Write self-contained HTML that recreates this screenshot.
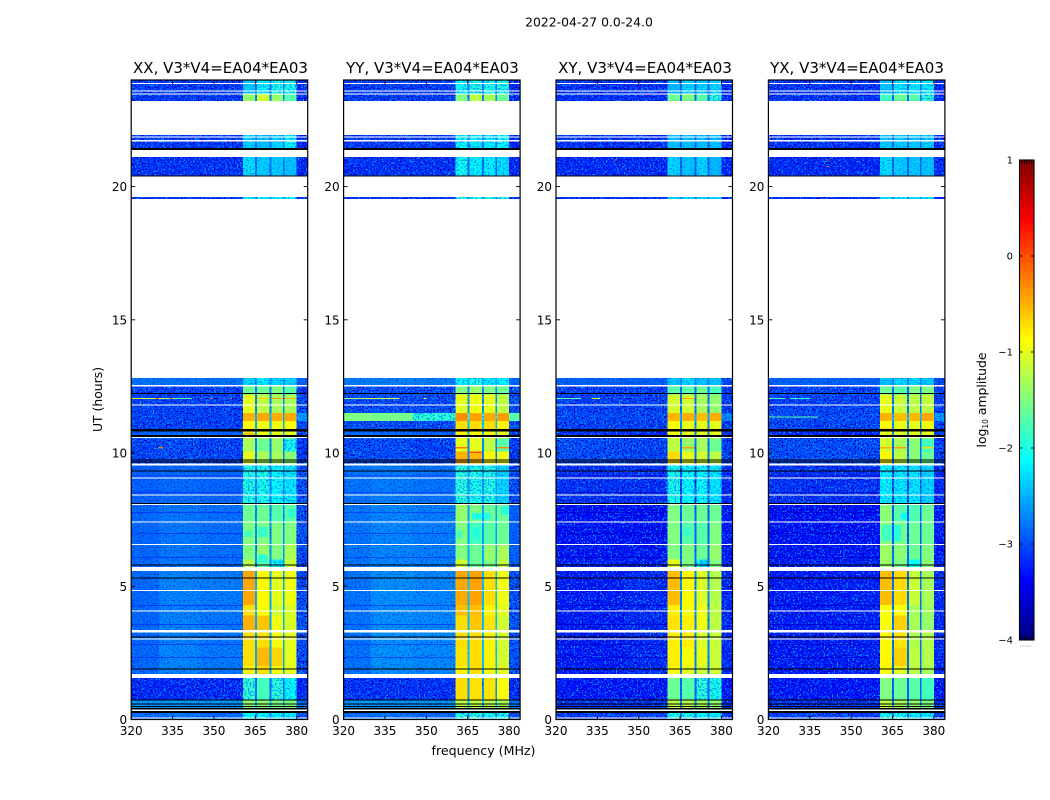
<!DOCTYPE html>
<html lang="en">
<head>
<meta charset="utf-8">
<title>2022-04-27 amplitude waterfall</title>
<style>
html,body{margin:0;padding:0;background:#fff;width:1050px;height:800px;overflow:hidden}
svg{display:block}
text{font-family:"DejaVu Sans","Liberation Sans",sans-serif;fill:#000}
</style>
</head>
<body>
<svg id="figure" xmlns="http://www.w3.org/2000/svg" width="1050" height="800" viewBox="0 0 1050 800">
  <defs>
    <filter id="speck-light" filterUnits="userSpaceOnUse" x="0" y="0" width="1050" height="800" color-interpolation-filters="sRGB">
      <feTurbulence type="fractalNoise" baseFrequency="0.62" numOctaves="1" seed="4"/>
      <feColorMatrix type="matrix" values="0 0 0 0 0  0 0 0 0 0.62  0 0 0 0 1  9 0 0 0 -4.9"/>
    </filter>
    <filter id="speck-dark" filterUnits="userSpaceOnUse" x="0" y="0" width="1050" height="800" color-interpolation-filters="sRGB">
      <feTurbulence type="fractalNoise" baseFrequency="0.62" numOctaves="1" seed="11"/>
      <feColorMatrix type="matrix" values="0 0 0 0 0  0 0 0 0 0  0 0 0 0 0.72  9 0 0 0 -4.9"/>
    </filter>
    <filter id="speck-band" filterUnits="userSpaceOnUse" x="0" y="0" width="1050" height="800" color-interpolation-filters="sRGB">
      <feTurbulence type="fractalNoise" baseFrequency="0.6" numOctaves="1" seed="23"/>
      <feColorMatrix type="matrix" values="0 0 0 0 0  0 0 0 0 0.6  0 0 0 0 1  9 0 0 0 -4.7"/>
    </filter>
  </defs>
  <text x="589" y="26.5" font-size="12.4" text-anchor="middle">2022-04-27 0.0-24.0</text>
  <text x="220.5" y="73" font-size="15" text-anchor="middle">XX, V3*V4=EA04*EA03</text>
  <text x="432.5" y="73" font-size="15" text-anchor="middle">YY, V3*V4=EA04*EA03</text>
  <text x="645" y="73" font-size="15" text-anchor="middle">XY, V3*V4=EA04*EA03</text>
  <text x="857" y="73" font-size="15" text-anchor="middle">YX, V3*V4=EA04*EA03</text>
  <text transform="translate(102 399.5) rotate(-90)" font-size="12.4" text-anchor="middle">UT (hours)</text>
  <text x="483.5" y="755" font-size="12.6" text-anchor="middle">frequency (MHz)</text>
  <text transform="translate(986 400) rotate(-90)" font-size="12.4" text-anchor="middle">log<tspan font-size="7.5" dy="2">10</tspan><tspan dy="-2"> amplitude</tspan></text>
  <g id="panels"></g>
  <g id="colorbar"></g>
</svg>
<script>
// ---------- chart data (log10 amplitude) ----------
const hourEdges = [0,0.43,0.73,1.56,2.0,2.7,3.3,3.9,4.3,5.57,6,6.55,7.4,8.1,9.6,10.05,10.55,10.9,11.2,11.5,12.2,12.5,12.82,19.53,20.38,21.37,23.22,23.47,24];
const freqEdges = [320,330,345,360.5,364.9,365.6,370.2,370.9,375,375.6,380,384];
const xTickValues = [320,335,350,365,380];
const yTickValues = [0,5,10,15,20];
const colorbarTicks = [-4,-3,-2,-1,0,1];
// each row: bgLow, bgMid, bgHigh, band1, band2, band3, band4, gap, edge
const levelsXX = [
 [-2.85,-2.8,-2.85,-2.1,-2.1,-2.2,-2.2,-2.7,-3.0],
 [-2.6,-2.6,-2.6,-1.4,-1.4,-1.5,-1.5,-2.4,-2.8],
 [-3.2,-3.2,-3.2,-1.85,-1.8,-1.9,-2.1,-2.8,-3.2],
 [-2.86,-2.72,-2.78,-0.82,-0.72,-0.92,-1.0,-2.5,-3.0],
 [-2.86,-2.7,-2.76,-0.72,-0.52,-0.68,-1.0,-2.5,-3.0],
 [-2.86,-2.72,-2.78,-0.72,-0.72,-0.92,-1.0,-2.5,-3.0],
 [-2.86,-2.72,-2.78,-0.5,-0.6,-0.95,-1.05,-2.5,-3.0],
 [-2.86,-2.74,-2.78,-0.72,-0.9,-1.1,-1.05,-2.5,-3.0],
 [-2.86,-2.72,-2.76,-0.44,-0.85,-1.0,-0.95,-2.5,-3.0],
 [-2.86,-2.78,-2.82,-1.25,-1.7,-1.9,-1.15,-2.6,-3.0],
 [-2.86,-2.78,-2.82,-1.5,-1.4,-1.5,-1.3,-2.6,-3.0],
 [-2.86,-2.78,-2.82,-1.5,-1.5,-1.5,-1.5,-2.65,-3.0],
 [-2.86,-2.78,-2.82,-1.6,-1.6,-1.7,-1.7,-2.65,-3.0],
 [-2.9,-2.85,-2.88,-1.95,-2.0,-2.1,-2.2,-2.7,-3.0],
 [-3.05,-3.0,-3.05,-1.0,-1.3,-1.3,-1.45,-2.7,-3.1],
 [-3.05,-3.0,-3.05,-1.3,-1.6,-1.4,-2.0,-2.7,-3.1],
 [-2.9,-2.85,-2.9,-0.8,-0.95,-1.0,-1.0,-2.5,-3.0],
 [-3.05,-3.05,-3.05,-0.85,-0.95,-0.95,-0.9,-2.5,-3.0],
 [-3.05,-3.05,-3.05,-0.5,-0.45,-0.48,-0.45,-2.4,-2.6],
 [-3.05,-3.05,-3.05,-1.0,-1.2,-1.3,-1.3,-2.7,-3.0],
 [-3.05,-3.05,-3.05,-1.6,-1.6,-1.5,-1.7,-2.7,-3.1],
 [-2.8,-2.8,-2.8,-2.3,-2.2,-2.3,-2.3,-2.6,-2.9],
 null,
 [-3.1,-3.1,-3.1,-2.1,-2.1,-2.1,-2.1,-2.7,-3.2],
 [-3.15,-3.15,-3.15,-2.25,-2.35,-2.35,-2.4,-2.8,-3.2],
 [-3.1,-3.1,-3.1,-2.35,-2.4,-2.3,-2.1,-2.8,-3.2],
 [-3.1,-3.1,-3.1,-1.4,-1.1,-1.4,-1.7,-2.7,-3.2],
 [-3.1,-3.1,-3.1,-2.35,-2.15,-2.0,-2.0,-2.8,-3.2]
];
const levelsYY = [
 [-2.85,-2.8,-2.85,-1.95,-1.9,-2.0,-2.0,-2.7,-3.0],
 [-2.6,-2.6,-2.6,-1.2,-1.2,-1.2,-1.3,-2.4,-2.8],
 [-3.15,-3.15,-3.15,-0.72,-0.74,-0.74,-0.9,-2.6,-3.2],
 [-2.8,-2.66,-2.7,-0.82,-0.72,-0.92,-1.0,-2.4,-2.95],
 [-2.8,-2.64,-2.68,-0.74,-0.72,-0.82,-1.1,-2.4,-2.95],
 [-2.8,-2.64,-2.68,-0.72,-0.72,-0.82,-1.1,-2.4,-2.95],
 [-2.8,-2.66,-2.7,-0.72,-0.6,-0.74,-1.1,-2.4,-2.95],
 [-2.8,-2.66,-2.7,-0.56,-0.56,-0.82,-1.0,-2.4,-2.95],
 [-2.8,-2.66,-2.7,-0.45,-0.42,-0.72,-0.95,-2.4,-2.95],
 [-2.78,-2.7,-2.74,-1.1,-1.6,-1.5,-1.2,-2.5,-2.9],
 [-2.78,-2.7,-2.74,-1.5,-1.6,-1.4,-1.3,-2.5,-2.9],
 [-2.78,-2.7,-2.74,-1.5,-1.8,-1.7,-1.6,-2.55,-2.9],
 [-2.78,-2.7,-2.74,-1.4,-1.5,-1.6,-1.6,-2.55,-2.9],
 [-2.8,-2.75,-2.8,-1.9,-2.0,-1.95,-2.3,-2.6,-3.0],
 [-3.0,-3.0,-3.05,-0.5,-0.52,-0.85,-0.95,-2.7,-3.1],
 [-3.0,-3.0,-3.05,-1.0,-1.0,-1.2,-1.7,-2.7,-3.1],
 [-2.85,-2.85,-2.9,-0.8,-0.85,-0.95,-1.0,-2.5,-3.0],
 [-3.0,-3.0,-3.0,-0.72,-0.72,-0.72,-0.82,-2.4,-3.0],
 [-1.5,-1.55,-1.9,-0.32,-0.42,-0.44,-0.4,-2.0,-1.7],
 [-3.0,-3.0,-3.0,-1.0,-0.95,-1.0,-1.2,-2.6,-3.0],
 [-3.0,-3.0,-3.0,-1.5,-1.4,-1.5,-1.6,-2.6,-3.0],
 [-2.75,-2.75,-2.75,-2.1,-2.0,-2.2,-2.1,-2.5,-2.9],
 null,
 [-3.1,-3.1,-3.1,-1.95,-1.95,-1.95,-1.95,-2.7,-3.2],
 [-3.15,-3.15,-3.15,-2.05,-2.15,-2.15,-2.25,-2.8,-3.2],
 [-3.1,-3.1,-3.1,-2.1,-2.2,-2.2,-2.1,-2.8,-3.2],
 [-3.1,-3.1,-3.1,-1.5,-1.2,-1.3,-1.6,-2.7,-3.2],
 [-3.1,-3.1,-3.1,-2.1,-2.0,-2.0,-2.0,-2.8,-3.2]
];
const levelsXY = [
 [-3.05,-3.05,-3.05,-2.0,-2.0,-2.1,-2.2,-2.8,-3.1],
 [-3.15,-3.15,-3.15,-1.2,-1.2,-1.3,-1.4,-2.7,-3.2],
 [-3.3,-3.3,-3.3,-1.6,-1.7,-1.9,-2.0,-2.9,-3.3],
 [-3.28,-3.28,-3.2,-0.9,-1.0,-1.1,-1.1,-2.7,-3.2],
 [-3.28,-3.28,-3.2,-0.8,-0.9,-1.0,-1.15,-2.7,-3.2],
 [-3.28,-3.28,-3.2,-0.8,-0.8,-1.05,-1.15,-2.7,-3.2],
 [-3.28,-3.28,-3.2,-0.75,-0.8,-0.95,-1.2,-2.7,-3.2],
 [-3.28,-3.28,-3.2,-0.8,-0.9,-0.95,-1.2,-2.7,-3.2],
 [-3.28,-3.28,-3.2,-0.55,-0.85,-1.05,-1.25,-2.7,-3.2],
 [-3.25,-3.25,-3.25,-1.0,-1.5,-1.9,-1.5,-2.8,-3.2],
 [-3.3,-3.3,-3.3,-1.5,-1.5,-1.6,-1.4,-2.8,-3.3],
 [-3.33,-3.33,-3.33,-1.5,-1.7,-1.7,-1.5,-2.9,-3.3],
 [-3.33,-3.33,-3.33,-1.5,-1.6,-1.6,-1.6,-2.9,-3.3],
 [-3.15,-3.15,-3.15,-2.0,-2.1,-2.1,-2.2,-3.0,-3.2],
 [-3.0,-3.0,-3.05,-0.7,-1.0,-1.1,-1.2,-2.8,-3.1],
 [-3.0,-3.0,-3.05,-1.2,-1.4,-1.3,-1.6,-2.8,-3.1],
 [-3.15,-3.15,-3.15,-0.9,-1.0,-1.0,-1.0,-2.7,-3.1],
 [-3.05,-3.05,-3.05,-0.9,-1.0,-1.0,-1.0,-2.7,-3.1],
 [-3.0,-3.0,-3.0,-0.52,-0.48,-0.55,-0.48,-2.5,-2.7],
 [-3.05,-3.05,-3.05,-1.1,-1.1,-1.3,-1.4,-2.8,-3.1],
 [-3.05,-3.05,-3.05,-1.7,-1.7,-1.6,-1.8,-2.8,-3.1],
 [-2.9,-2.9,-2.9,-2.4,-2.3,-2.4,-2.4,-2.7,-3.0],
 null,
 [-3.15,-3.15,-3.15,-2.25,-2.25,-2.25,-2.25,-2.8,-3.2],
 [-3.2,-3.2,-3.2,-2.3,-2.4,-2.3,-2.45,-2.9,-3.2],
 [-3.15,-3.15,-3.15,-2.4,-2.4,-2.4,-2.4,-2.9,-3.2],
 [-3.15,-3.15,-3.15,-1.6,-1.5,-1.7,-1.9,-2.8,-3.2],
 [-3.15,-3.15,-3.15,-2.45,-2.3,-2.3,-2.3,-2.9,-3.2]
];
const levelsYX = [
 [-3.05,-3.05,-3.05,-2.0,-2.0,-2.1,-2.2,-2.8,-3.1],
 [-3.15,-3.15,-3.15,-1.2,-1.3,-1.4,-1.5,-2.7,-3.2],
 [-3.3,-3.3,-3.3,-1.5,-1.6,-1.7,-1.8,-2.9,-3.3],
 [-3.28,-3.28,-3.25,-0.9,-1.0,-1.2,-1.3,-2.8,-3.2],
 [-3.28,-3.28,-3.25,-0.85,-0.65,-1.2,-1.25,-2.8,-3.2],
 [-3.28,-3.28,-3.25,-0.85,-0.75,-1.25,-1.25,-2.8,-3.2],
 [-3.28,-3.28,-3.25,-0.9,-0.65,-1.3,-1.4,-2.8,-3.2],
 [-3.28,-3.28,-3.25,-0.9,-0.9,-1.3,-1.35,-2.8,-3.2],
 [-3.28,-3.28,-3.25,-0.55,-0.7,-1.15,-1.3,-2.8,-3.2],
 [-3.25,-3.25,-3.25,-1.35,-1.5,-1.6,-1.45,-2.8,-3.2],
 [-3.3,-3.3,-3.3,-1.35,-1.45,-1.6,-1.5,-2.8,-3.3],
 [-3.33,-3.33,-3.33,-1.5,-1.55,-1.6,-1.6,-2.9,-3.3],
 [-3.33,-3.33,-3.33,-1.45,-1.7,-1.75,-1.6,-2.9,-3.3],
 [-3.15,-3.15,-3.15,-2.15,-2.2,-2.2,-2.3,-3.0,-3.2],
 [-3.0,-3.0,-3.0,-0.85,-1.2,-1.45,-1.6,-2.8,-3.1],
 [-3.0,-3.0,-3.0,-1.1,-1.3,-1.45,-1.8,-2.8,-3.1],
 [-3.2,-3.2,-3.2,-1.0,-1.05,-1.0,-1.0,-2.7,-3.1],
 [-3.05,-3.05,-3.05,-0.9,-1.0,-1.0,-0.95,-2.7,-3.1],
 [-3.0,-3.0,-3.0,-0.5,-0.55,-0.52,-0.43,-2.4,-2.6],
 [-3.05,-3.05,-3.05,-1.0,-1.15,-1.2,-1.2,-2.8,-3.1],
 [-3.05,-3.05,-3.05,-1.6,-1.7,-1.5,-1.5,-2.8,-3.1],
 [-2.9,-2.9,-2.9,-2.4,-2.3,-2.3,-2.4,-2.7,-3.0],
 null,
 [-3.15,-3.15,-3.15,-2.2,-2.2,-2.2,-2.2,-2.8,-3.2],
 [-3.2,-3.2,-3.2,-2.25,-2.35,-2.35,-2.4,-2.9,-3.2],
 [-3.15,-3.15,-3.15,-2.35,-2.35,-2.35,-2.35,-2.9,-3.2],
 [-3.15,-3.15,-3.15,-1.8,-1.6,-1.7,-1.9,-2.8,-3.2],
 [-3.15,-3.15,-3.15,-2.4,-2.2,-2.2,-2.2,-2.9,-3.2]
];
// flagged time ranges [hourLow, hourHigh]
const whiteRanges = [[0.04,0.08],[0.32,0.375],[1.56,1.71],[3.0,3.04],[3.26,3.36],[4.05,4.09],[4.82,4.86],[5.57,5.72],[6.55,6.59],[7.39,7.43],[8.05,8.09],[8.4,8.44],[9.04,9.08],[9.53,9.6],[10.56,10.6],[11.78,11.82],[12.5,12.55],[12.82,19.53],[19.61,20.38],[21.11,21.37],[21.7,21.74],[21.84,21.88],[21.93,23.22],[23.45,23.49],[23.57,23.61],[23.85,23.89]];
const blackRanges = [[0.24,0.32],[0.375,0.43],[0.48,0.51],[0.57,0.6],[0.72,0.75],[1.88,1.92],[3.08,3.12],[5.29,5.33],[5.78,5.82],[8.09,8.12],[9.31,9.35],[9.64,9.68],[9.72,9.76],[10.6,10.68],[10.81,10.9],[12.21,12.25],[20.38,20.41],[21.37,21.45]];
const dimRowHours = [2.35,2.83,3.58,4.3,6.1,7.0,7.78,8.54,9.15];
const dimRowLevels = [-3.15,-3.1,-3.6,-3.6];
// narrow interference: [panel, hour, freqLow, freqHigh, level]
const rfiLines = [
 [0,12.05,320,332,-1.1],[0,12.05,332,342,-1.6],[0,12.05,329,330,-0.2],[0,12.05,334,335,0.1],[0,12.05,348.5,349.5,-0.3],[0,12.05,356,356.6,-0.2],
 [0,12.05,365.6,370.2,-0.6],[0,12.05,370.9,375,-0.4],[0,12.05,375.6,380,-0.5],[0,10.2,330,331.5,-0.2],[0,10.66,360.5,364.9,-0.3],[0,10.72,360.5,364.9,-0.3],
 [1,12.05,320,328,-1.4],[1,12.05,328,340,-1.2],[1,12.05,349,350,-1.0],[1,12.05,360.5,364.9,-0.8],[1,10.03,365.6,370.2,0.0],[1,10.2,360.5,364.9,-0.2],[1,10.2,375.6,380,-0.3],[1,10.87,360.5,364.9,-0.1],
 [2,12.05,320,329,-1.7],[2,12.05,333,336,-1.2],[2,12.05,365.6,370.2,-0.5],[2,21.0,341,342,0.0],[2,10.2,365.6,370.2,-0.4],
 [3,12.05,320,326,-1.8],[3,12.05,328,335,-1.9],[3,11.35,320,338,-1.7],[3,21.0,341,342,-0.1],[3,20.75,341,342,-0.1],[3,10.2,360.5,364.9,-0.5],[3,10.2,365.6,370.2,-0.4],[3,10.2,375.6,380,-0.7],[3,10.9,360.5,364.9,-0.5]
];
// darker swirls inside the bands: [panel, hourLow, hourHigh, freqLow, freqHigh, level]
const bandPatches = [
 [0,5.9,6.2,366,369.5,-1.9],[0,6.85,7.1,361,364,-1.8],[0,6.85,7.25,366,369.5,-1.85],[0,5.7,6.0,372,375,-2.2],[0,7.6,7.9,377,379.5,-1.9],
 [1,7.5,7.75,366.5,370.2,-2.0],[1,7.5,7.75,370.9,373,-2.0],[1,6.8,7.1,361,363,-1.8],[1,6.75,7.2,367,369.5,-1.95],[1,7.7,8.0,377,380,-1.95],
 [2,5.7,6.0,372,375,-2.3],[2,6.9,7.2,366,369,-1.85],
 [3,7.5,7.75,368,370.2,-2.1],[3,7.5,7.75,370.9,371,-2.1],[3,6.7,7.3,361,364.9,-1.8],[3,6.7,7.3,365.6,368,-1.95],[3,5.7,6.0,370.9,375,-2.1]
];
const panelLevels = [levelsXX, levelsYY, levelsXY, levelsYX];
const panelKeys = ['xx','yy','xy','yx'];
const columnMap = [0,1,2,3,7,4,7,5,7,6,8];

// ---------- axis functions ----------
const NS = 'http://www.w3.org/2000/svg';
const plotTop = 80, plotBottom = 719.5, hourMax = 24;
const freqMin = 320, freqMax = 384;
function panelLeft(p){ return 131.2 + p * 212.4; }
function panelWidth(){ return 176.5; }
function xScale(p, f){ return panelLeft(p) + (f - freqMin) / (freqMax - freqMin) * panelWidth(); }
function yScale(h){ return plotBottom - h / hourMax * (plotBottom - plotTop); }
function cbY(v){ return 160 + (1 - v) / 5 * 480; }

function jetPart(x){ return Math.max(0, Math.min(1, x)); }
function jet(v){
  const t = (v + 4) / 5;
  const r = jetPart(Math.min(4 * t - 1.5, -4 * t + 4.5));
  const g = jetPart(Math.min(4 * t - 0.5, -4 * t + 3.5));
  const b = jetPart(Math.min(4 * t + 0.5, -4 * t + 2.5));
  return 'rgb(' + Math.round(r * 255) + ',' + Math.round(g * 255) + ',' + Math.round(b * 255) + ')';
}
function makeRect(parent, x, y, w, h, fill){
  const r = document.createElementNS(NS, 'rect');
  r.setAttribute('x', x.toFixed(2));
  r.setAttribute('y', y.toFixed(2));
  r.setAttribute('width', w.toFixed(2));
  r.setAttribute('height', h.toFixed(2));
  r.setAttribute('fill', fill);
  r.setAttribute('shape-rendering', 'crispEdges');
  parent.appendChild(r);
  return r;
}
function makeLine(parent, x1, y1, x2, y2, w){
  const l = document.createElementNS(NS, 'line');
  l.setAttribute('x1', x1);
  l.setAttribute('y1', y1);
  l.setAttribute('x2', x2);
  l.setAttribute('y2', y2);
  l.setAttribute('stroke', '#000');
  l.setAttribute('stroke-width', w);
  parent.appendChild(l);
  return l;
}
function makeText(parent, x, y, str, size, anchor){
  const t = document.createElementNS(NS, 'text');
  t.setAttribute('x', x);
  t.setAttribute('y', y);
  t.setAttribute('font-size', size);
  t.setAttribute('text-anchor', anchor);
  t.textContent = str;
  parent.appendChild(t);
  return t;
}
function makeGroup(parent){
  const g = document.createElementNS(NS, 'g');
  parent.appendChild(g);
  return g;
}
function makeClip(id){
  const c = document.createElementNS(NS, 'clipPath');
  c.setAttribute('id', id);
  document.querySelector('defs').appendChild(c);
  return c;
}

const panelsRoot = document.getElementById('panels');

panelLevels.forEach(function(levels, p){
  const key = panelKeys[p];
  const g = makeGroup(panelsRoot);
  
  

  const left = xScale(p, freqMin), right = xScale(p, freqMax);

  // clip paths describing where the speckle texture applies
  const heavyClip = makeClip('heavy-clip-' + key);
  const mildClip = makeClip('mild-clip-' + key);
  const bandClip = makeClip('band-clip-' + key);

  const cells = makeGroup(g);
  
  

  levels.forEach(function(row, s){
    if (!row) return;
    const y0 = yScale(hourEdges[s + 1]), y1 = yScale(hourEdges[s]);
    for (let c = 0; c < freqEdges.length - 1; c++) {
      const value = row[columnMap[c]];
      const x0 = xScale(p, freqEdges[c]), x1 = xScale(p, freqEdges[c + 1]);
      const cell = makeRect(cells, x0, y0, x1 - x0, y1 - y0, jet(value));
      
      
      if (value <= -2.95) {
        makeRect(heavyClip, x0, y0, x1 - x0, y1 - y0, '#000');
      } else if (value <= -2.6) {
        makeRect(mildClip, x0, y0, x1 - x0, y1 - y0, '#000');
      } else if (value <= -1.85 && value > -2.6) {
        makeRect(bandClip, x0, y0, x1 - x0, y1 - y0, '#000');
      }
    }
  });

  // swirl patches inside the bands
  bandPatches.forEach(function(patch){
    if (patch[0] !== p) return;
    const x0 = xScale(p, patch[3]), x1 = xScale(p, patch[4]);
    const y0 = yScale(patch[2]), y1 = yScale(patch[1]);
    const swirl = makeRect(g, x0, y0, x1 - x0, y1 - y0, jet(patch[5]));
    
    
  });

  // speckle overlays
  const heavyTexture = makeGroup(g);
  heavyTexture.setAttribute('clip-path', 'url(#heavy-clip-' + key + ')');
  
  
  const lightSpeck = makeRect(heavyTexture, left, plotTop, right - left, plotBottom - plotTop, '#000');
  lightSpeck.setAttribute('filter', 'url(#speck-light)');
  const darkSpeck = makeRect(heavyTexture, left, plotTop, right - left, plotBottom - plotTop, '#000');
  darkSpeck.setAttribute('filter', 'url(#speck-dark)');

  const mildTexture = makeGroup(g);
  mildTexture.setAttribute('clip-path', 'url(#mild-clip-' + key + ')');
  mildTexture.setAttribute('opacity', '0.4');
  
  
  const mildLight = makeRect(mildTexture, left, plotTop, right - left, plotBottom - plotTop, '#000');
  mildLight.setAttribute('filter', 'url(#speck-band)');
  const mildDark = makeRect(mildTexture, left, plotTop, right - left, plotBottom - plotTop, '#000');
  mildDark.setAttribute('filter', 'url(#speck-dark)');

  const bandTexture = makeGroup(g);
  bandTexture.setAttribute('clip-path', 'url(#band-clip-' + key + ')');
  
  
  const bandSpeck = makeRect(bandTexture, left, plotTop, right - left, plotBottom - plotTop, '#000');
  bandSpeck.setAttribute('filter', 'url(#speck-band)');

  // dim rows across the low band
  dimRowHours.forEach(function(h){
    const x0 = xScale(p, freqMin), x1 = xScale(p, 360.5);
    const dim = makeRect(g, x0, yScale(h), x1 - x0, 1, jet(dimRowLevels[p]));
    dim.setAttribute('opacity', '0.75');
    
    
  });

  // interference lines
  rfiLines.forEach(function(line){
    if (line[0] !== p) return;
    const x0 = xScale(p, line[2]), x1 = xScale(p, line[3]);
    const mark = makeRect(g, x0, yScale(line[1]) - 0.5, x1 - x0, 1.1, jet(line[4]));
    
    
  });

  // flagged rows
  whiteRanges.forEach(function(r){
    const y0 = yScale(r[1]), y1 = yScale(r[0]);
    const flag = makeRect(g, left, y0, right - left, Math.max(1, y1 - y0), '#fff');
    
    
  });
  blackRanges.forEach(function(r){
    const y0 = yScale(r[1]), y1 = yScale(r[0]);
    const flag = makeRect(g, left, y0, right - left, Math.max(1, y1 - y0), '#000');
    
    
  });

  // frame
  const frame = document.createElementNS(NS, 'rect');
  frame.setAttribute('x', left);
  frame.setAttribute('y', plotTop);
  frame.setAttribute('width', right - left);
  frame.setAttribute('height', plotBottom - plotTop);
  frame.setAttribute('fill', 'none');
  frame.setAttribute('stroke', '#000');
  frame.setAttribute('stroke-width', '1.2');
  
  
  g.appendChild(frame);

  // x ticks
  xTickValues.forEach(function(f){
    const x = xScale(p, f);
    const bottomTick = makeLine(g, x, plotBottom, x, plotBottom - 4, 0.9);
    
    
    const topTick = makeLine(g, x, plotTop, x, plotTop + 4, 0.9);
    
    
    const label = makeText(g, x, 735, String(f), 12, 'middle');
    
    
  });

  // y ticks
  yTickValues.forEach(function(h){
    const y = yScale(h);
    const leftTick = makeLine(g, left, y, left + 4, y, 0.9);
    
    
    const rightTick = makeLine(g, right, y, right - 4, y, 0.9);
    
    
    const label = makeText(g, left - 4, y + 4.5, String(h), 12, 'end');
    
    
  });
});

// ---------- colorbar ----------
const cb = document.getElementById('colorbar');
const cbLeft = 1019.5, cbRight = 1034;
for (let i = 0; i < 240; i++) {
  const v0 = -4 + i * 5 / 240;
  const v1 = -4 + (i + 1) * 5 / 240;
  const swatch = makeRect(cb, cbLeft, cbY(v1), cbRight - cbLeft, cbY(v0) - cbY(v1), jet((v0 + v1) / 2));
  
  
}
const cbFrame = document.createElementNS(NS, 'rect');
cbFrame.setAttribute('x', cbLeft);
cbFrame.setAttribute('y', 160);
cbFrame.setAttribute('width', cbRight - cbLeft);
cbFrame.setAttribute('height', 480);
cbFrame.setAttribute('fill', 'none');
cbFrame.setAttribute('stroke', '#000');
cbFrame.setAttribute('stroke-width', '1.1');


cb.appendChild(cbFrame);
colorbarTicks.forEach(function(v){
  const y = cbY(v);
  const a = makeLine(cb, cbLeft, y, cbLeft + 3, y, 0.9);
  
  
  const b = makeLine(cb, cbRight, y, cbRight - 3, y, 0.9);
  
  
  const label = makeText(cb, 1013, y + 3.5, String(v).replace('-', '\u2212'), 10, 'end');
  
  
});
for (let i = 1; i < 6; i++) {
  const x = cbLeft + i * (cbRight - cbLeft) / 6;
  const top = makeLine(cb, x, 160, x, 164, 0.8);
  
  
  const bottom = makeLine(cb, x, 640, x, 636, 0.8);
  
  
  const dot = makeRect(cb, x - 2, 645.5, 1, 1, '#999');
  
  
}
</script>
</body>
</html>
